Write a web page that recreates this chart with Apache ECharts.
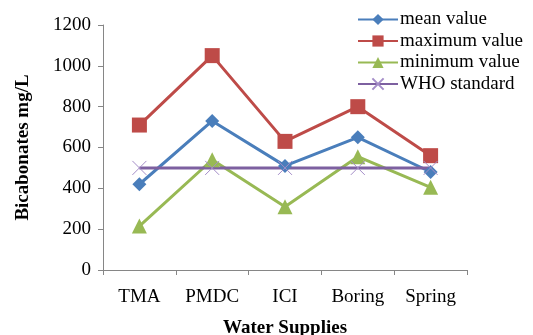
<!DOCTYPE html>
<html>
<head>
<meta charset="utf-8">
<script src="https://cdn.jsdelivr.net/npm/echarts@6/dist/echarts.min.js"></script>
<style>
  html, body { margin: 0; padding: 0; background: #fff; }
  #chart { width: 533px; height: 335px; }
</style>
</head>
<body>
<div id="chart"></div>
<script>
// values
var categories = ['TMA', 'PMDC', 'ICI', 'Boring', 'Spring'];
var meanValue = [420, 730, 510, 650, 480];
var maxValue = [710, 1050, 630, 800, 560];
var minValue = [215, 540, 310, 555, 405];
var whoStandard = [500, 500, 500, 500, 500];

var serif = 'Liberation Serif';

var myChart = echarts.init(document.getElementById('chart'));

function lineSeries(name, data, color, symbol, size, extra) {
    var s = {
        name: name,
        type: 'line',
        data: data,
        symbol: symbol,
        symbolSize: size,
        lineStyle: { color: color, width: 3 },
        itemStyle: { color: color },
        emphasis: { disabled: true },
        animation: false
    };
    if (extra) Object.assign(s, extra);
    return s;
}

var option = {
    backgroundColor: '#fff',
    textStyle: { fontFamily: serif },
    grid: {
        left: 103,
        right: 66,
        top: 25,
        bottom: 65,
        outerBoundsMode: 'none'
    },
    legend: {
        orient: 'vertical',
        left: 357,
        top: 10,
        padding: 0,
        itemWidth: 40,
        itemHeight: 14,
        itemGap: 2.5,
        textStyle: {
            fontFamily: serif,
            fontSize: 19,
            lineHeight: 18,
            color: '#000',
            padding: [0, 0, 0, -3]
        }
    },
    xAxis: {
        type: 'category',
        data: categories,
        name: 'Water Supplies',
        nameLocation: 'middle',
        nameGap: 49,
        nameTextStyle: {
            fontFamily: serif,
            fontWeight: 'bold',
            fontSize: 19,
            color: '#000'
        },
        axisLine: { lineStyle: { color: '#868686', width: 1 } },
        axisTick: { show: true, length: 5, lineStyle: { color: '#868686' } },
        axisLabel: {
            fontFamily: serif,
            fontSize: 19,
            color: '#000',
            margin: 18
        },
        splitLine: { show: false }
    },
    yAxis: {
        type: 'value',
        min: 0,
        max: 1200,
        interval: 200,
        name: 'Bicabonates mg/L',
        nameLocation: 'middle',
        nameGap: 70,
        nameTextStyle: {
            fontFamily: serif,
            fontWeight: 'bold',
            fontSize: 19,
            color: '#000'
        },
        axisLine: { show: true, lineStyle: { color: '#868686', width: 1 } },
        axisTick: { show: true, length: 5, lineStyle: { color: '#868686' } },
        axisLabel: {
            fontFamily: serif,
            fontSize: 19,
            color: '#000',
            margin: 12,
            formatter: function (v) { return String(v); }
        },
        splitLine: { show: false }
    },
    series: [
        lineSeries('mean value', meanValue, '#4A7EBB', 'diamond', 14),
        lineSeries('maximum value', maxValue, '#BE4B48', 'rect', 15),
        lineSeries('minimum value', minValue, '#98B954', 'triangle', 15),
        lineSeries('WHO standard', whoStandard, '#7D60A0', 'path://M0,0L10,10M10,0L0,10', 14, {
            itemStyle: { color: 'transparent', borderColor: '#A48DC8', borderWidth: 1 }
        })
    ]
};

myChart.setOption(option);
</script>
</body>
</html>
